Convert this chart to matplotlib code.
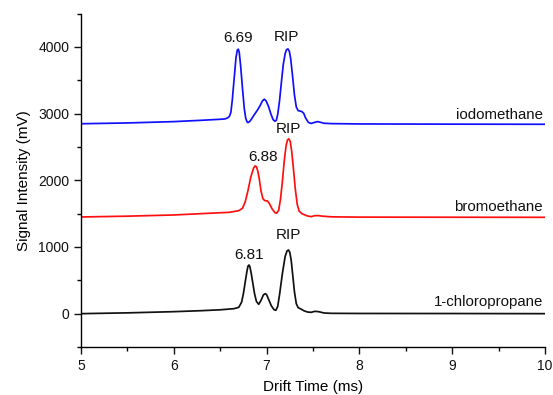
import matplotlib
matplotlib.use("Agg")
import matplotlib.pyplot as plt
from matplotlib.ticker import MultipleLocator

plt.rcParams['font.family'] = ['Liberation Sans', 'DejaVu Sans']

# ---- data ----
iodo_t = [5.0, 5.5, 6.0, 6.3, 6.5, 6.55, 6.58, 6.60, 6.615, 6.63, 6.65, 6.67, 6.685, 6.695,
          6.705, 6.72, 6.74, 6.76, 6.775, 6.79, 6.80, 6.82, 6.84, 6.87, 6.90, 6.93, 6.955,
          6.975, 6.995, 7.02, 7.045, 7.07, 7.09, 7.105, 7.12, 7.14, 7.16, 7.18, 7.20, 7.215,
          7.23, 7.245, 7.26, 7.28, 7.30, 7.32, 7.34, 7.36, 7.38, 7.40, 7.42, 7.45, 7.48,
          7.52, 7.55, 7.58, 7.62, 7.70, 8.0, 9.0, 10.0]
iodo_v = [2848, 2860, 2880, 2900, 2915, 2920, 2935, 2960, 3020, 3200, 3520, 3840, 3955, 3966,
          3920, 3720, 3380, 3070, 2930, 2875, 2866, 2885, 2925, 2990, 3050, 3120, 3190,
          3216, 3190, 3110, 3000, 2910, 2885, 2900, 2990, 3200, 3480, 3740, 3900, 3960,
          3970, 3935, 3820, 3560, 3280, 3100, 3045, 3038, 3030, 3005, 2935, 2868, 2852,
          2870, 2880, 2870, 2855, 2850, 2845, 2842, 2840]

bromo_t = [5.0, 5.5, 6.0, 6.3, 6.6, 6.70, 6.74, 6.77, 6.80, 6.83, 6.86, 6.875, 6.89, 6.905,
           6.92, 6.94, 6.96, 6.98, 7.01, 7.03, 7.06, 7.09, 7.11, 7.13, 7.15, 7.17, 7.19,
           7.21, 7.225, 7.24, 7.255, 7.27, 7.29, 7.31, 7.33, 7.35, 7.38, 7.41, 7.44, 7.48,
           7.52, 7.56, 7.60, 7.70, 8.0, 9.0, 10.0]
bromo_v = [1450, 1462, 1480, 1500, 1520, 1545, 1580, 1680, 1850, 2050, 2185, 2215, 2205, 2140,
           2030, 1840, 1725, 1695, 1690, 1650, 1570, 1515, 1508, 1550, 1720, 1980, 2290,
           2520, 2605, 2622, 2580, 2440, 2160, 1860, 1640, 1540, 1500, 1482, 1465, 1455,
           1470, 1470, 1462, 1452, 1448, 1446, 1445]

chloro_t = [5.0, 5.5, 6.0, 6.3, 6.5, 6.65, 6.70, 6.73, 6.75, 6.77, 6.79, 6.80, 6.81, 6.82,
            6.835, 6.85, 6.87, 6.89, 6.915, 6.94, 6.965, 6.985, 7.00, 7.02, 7.05, 7.08,
            7.10, 7.12, 7.14, 7.17, 7.20, 7.22, 7.235, 7.25, 7.265, 7.28, 7.30, 7.32, 7.34,
            7.37, 7.40, 7.44, 7.48, 7.52, 7.56, 7.62, 7.70, 8.0, 9.0, 10.0]
chloro_v = [0, 12, 30, 45, 58, 75, 95, 170, 300, 480, 650, 715, 730, 705,
            600, 470, 300, 185, 140, 200, 280, 300, 285, 220, 120, 60,
            50, 110, 290, 600, 860, 940, 955, 920, 800, 600, 330, 150, 90,
            70, 45, 25, 20, 35, 30, 10, 5, 3, 2, 0]

series_names = ["iodomethane", "bromoethane", "1-chloropropane"]
series_colors = ["#1010ff", "#ff1010", "#111111"]

# peak annotations: (text, x, y)
peak_labels = [("6.69", 6.695, 4140), ("RIP", 7.21, 4155),
               ("6.88", 6.96, 2355), ("RIP", 7.24, 2775),
               ("6.81", 6.81, 875), ("RIP", 7.23, 1175)]
name_label_y = [2985, 1605, 170]

fig = plt.figure(figsize=(5.53, 3.95), dpi=100)
ax = fig.add_axes([0.1465, 0.1215, 0.839, 0.8441])

for (t, v), c in zip([(iodo_t, iodo_v), (bromo_t, bromo_v), (chloro_t, chloro_v)], series_colors):
    ax.plot(t, v, color=c, lw=1.25, solid_joinstyle='round')

for txt, x, y in peak_labels:
    ax.text(x, y, txt, ha='center', va='center', fontsize=11, color='#111111')

for name, y in zip(series_names, name_label_y):
    ax.text(9.98, y, name, ha='right', va='center', fontsize=10.8, color='#111111')

ax.set_xlim(5, 10)
ax.set_ylim(-500, 4500)
ax.xaxis.set_major_locator(MultipleLocator(1))
ax.xaxis.set_minor_locator(MultipleLocator(0.5))
ax.yaxis.set_major_locator(MultipleLocator(1000))
ax.yaxis.set_minor_locator(MultipleLocator(500))
ax.set_yticks([0, 1000, 2000, 3000, 4000])
ax.tick_params(which='major', direction='out', length=5, width=1, labelsize=10, colors='#111111')
ax.tick_params(which='minor', direction='out', length=3, width=1)
for s in ['top', 'right']:
    ax.spines[s].set_visible(False)
for s in ['left', 'bottom']:
    ax.spines[s].set_linewidth(1.0)

ax.set_xlabel("Drift Time (ms)", fontsize=11, labelpad=5)
ax.set_ylabel("Signal Intensity (mV)", fontsize=11, labelpad=5)

fig.savefig("out.png", dpi=100)
